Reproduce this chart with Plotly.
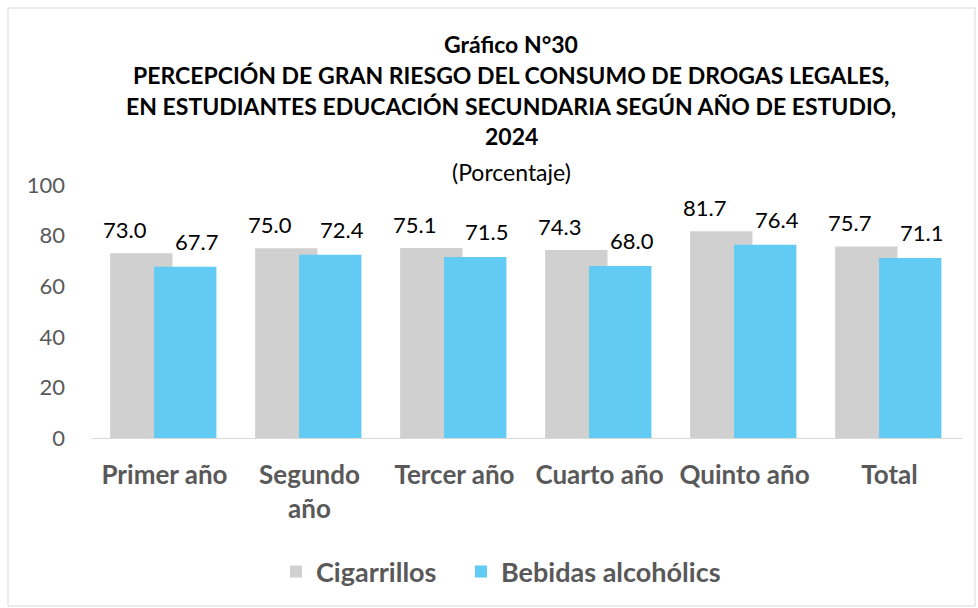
import plotly.graph_objects as go

categories = ["Primer año", "Segundo<br>año", "Tercer año", "Cuarto año", "Quinto año", "Total"]
cigarrillos = [73.0, 75.0, 75.1, 74.3, 81.7, 75.7]
bebidas = [67.7, 72.4, 71.5, 68.0, 76.4, 71.1]
series_names = ["Cigarrillos", "Bebidas alcohólics"]
title_lines = [
    "Gráfico N°30",
    "PERCEPCIÓN DE GRAN RIESGO DEL CONSUMO DE DROGAS LEGALES,",
    "EN ESTUDIANTES EDUCACIÓN SECUNDARIA SEGÚN AÑO DE ESTUDIO,",
    "2024",
]
subtitle = "(Porcentaje)"
y_ticks = [0, 20, 40, 60, 80, 100]

W, H = 978, 608
L, R, T, B = 92, 962, 185, 438
FONT = "Lato"

def px(x):
    return (x - L) / (R - L)

def py(y):
    return (B - y) / (B - T)

fig = go.Figure()
fig.add_trace(go.Bar(x=categories, y=cigarrillos, name=series_names[0],
                     marker=dict(color="#D0D0D0", line=dict(width=0)),
                     width=0.43, offset=-0.375, legend="legend"))
fig.add_trace(go.Bar(x=categories, y=bebidas, name=series_names[1],
                     marker=dict(color="#61CBF3", line=dict(width=0)),
                     width=0.43, offset=-0.072, legend="legend2"))

annotations = []
for c, v in zip(categories, cigarrillos):
    annotations.append(dict(x=c, y=v, xref="x", yref="y", text=f"{v:.1f}", showarrow=False,
                            xshift=-40, yshift=8, yanchor="bottom",
                            font=dict(family=FONT, size=22, color="#000000")))
for c, v in zip(categories, bebidas):
    annotations.append(dict(x=c, y=v, xref="x", yref="y", text=f"{v:.1f}", showarrow=False,
                            xshift=32, yshift=10, yanchor="bottom",
                            font=dict(family=FONT, size=22, color="#000000")))

title_y = [44, 75, 106, 136]
for t, yy in zip(title_lines, title_y):
    annotations.append(dict(x=px(511), y=py(yy), xref="paper", yref="paper", text=f"<b>{t}</b>",
                            showarrow=False, xanchor="center", yanchor="middle",
                            font=dict(family=FONT, size=23, color="#000000")))
annotations.append(dict(x=px(511), y=py(172), xref="paper", yref="paper", text=subtitle,
                        showarrow=False, xanchor="center", yanchor="middle",
                        font=dict(family=FONT, size=23, color="#000000")))

legend_style = dict(orientation="h", xanchor="left", y=py(572), yanchor="middle",
                    font=dict(family=FONT, size=27, color="#595959", weight="bold"),
                    itemwidth=30, bgcolor="rgba(0,0,0,0)")

fig.update_layout(
    width=W, height=H,
    margin=dict(l=L, r=W - R, t=T, b=H - B, pad=0),
    paper_bgcolor="white", plot_bgcolor="white",
    barmode="overlay",
    showlegend=True,
    legend=dict(x=px(276), **legend_style),
    legend2=dict(x=px(461), **legend_style),
    annotations=annotations,
    shapes=[dict(type="rect", xref="paper", yref="paper",
                 x0=px(8), x1=px(975), y0=py(606), y1=py(8),
                 line=dict(color="#D9D9D9", width=1), layer="below")],
)
fig.update_xaxes(showgrid=False, showline=True, linecolor="#D9D9D9", linewidth=1,
                 ticks="", ticklabelstandoff=14,
                 tickfont=dict(family=FONT, size=26, color="#595959", weight="bold"),
                 range=[-0.5, 5.5])
fig.update_yaxes(range=[0, 100], tickvals=y_ticks, showgrid=False, zeroline=False,
                 showline=False, ticks="", ticklabelstandoff=26,
                 tickfont=dict(family=FONT, size=22, color="#595959"))

fig.write_html("out.html", config={"displayModeBar": False},
               post_script="document.body.style.margin='0px';")
